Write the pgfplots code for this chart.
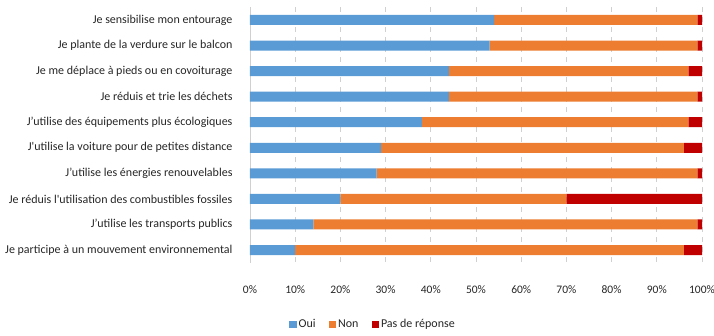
\documentclass[border=0pt]{standalone}
\usepackage{fontspec}
\newfontfamily\carlito{Carlito}
\usepackage{pgfplots}
\usepackage{pgfplotstable}
\pgfplotsset{compat=1.18}
\definecolor{oui}{HTML}{5B9BD5}
\definecolor{non}{HTML}{ED7D31}
\definecolor{pdr}{HTML}{C00000}
\definecolor{txt}{HTML}{262626}
\definecolor{grid}{HTML}{D0D0D0}
\newcommand\lf{\carlito\fontsize{12}{13}\selectfont}
\pgfplotstableread{
row oui non pdr
0 54 45 1
1 53 46 1
2 44 53 3
3 44 55 1
4 38 59 3
5 29 67 4
6 28 71 1
7 20 50 30
8 14 85 1
9 10 86 4
}\datatable
\begin{document}
\carlito
\begin{tikzpicture}
\path[use as bounding box] (-250pt,-72.2pt) rectangle (464pt,262.8pt);
\begin{axis}[
  at={(0,0)}, anchor=south west,
  scale only axis,
  width=452pt, height=255.6pt,
  xbar stacked,
  bar width=10pt,
  xmin=0, xmax=100,
  ymin=-0.5, ymax=9.5,
  y dir=reverse,
  axis lines=left,
  axis line style={-},
  x axis line style={draw=none},
  y axis line style={draw=grid, line width=0.8pt},
  major tick length=0pt,
  xtick={0,10,...,100},
  xticklabel={\pgfmathprintnumber{\tick}\%},
  /pgf/number format/assume math mode=true,
  xticklabel style={font=\carlito\fontsize{11.5}{13}\selectfont, text=txt, yshift=-19pt},
  ytick={0,...,9},
  yticklabels={Je sensibilise mon entourage,
    Je plante de la verdure sur le balcon,
    Je me déplace à pieds ou en covoiturage,
    Je réduis et trie les déchets,
    J’utilise des équipements plus écologiques,
    J'utilise la voiture pour de petites distance,
    J’utilise les énergies renouvelables,
    Je réduis l'utilisation des combustibles fossiles,
    J’utilise les transports publics,
    Je participe à un mouvement environnemental},
  yticklabel style={font=\carlito\fontsize{12}{13}\selectfont, text=txt, xshift=-14pt},
  xmajorgrids,
  major grid style={draw=grid, dash pattern=on 5pt off 5pt, line width=0.8pt},
  legend style={at={(0.272,-61.5pt)}, anchor=center, legend columns=3, draw=none,
    font=\lf, text=txt, nodes={inner sep=2pt},
    /tikz/every even column/.append style={column sep=11pt}},
  legend image code/.code={\fill[#1] (0pt,-3.75pt) rectangle (7.5pt,3.75pt);},
  every axis plot/.append style={draw=none},
]
\addplot[fill=oui] table[x=oui, y=row] {\datatable};
\addplot[fill=non] table[x=non, y=row] {\datatable};
\addplot[fill=pdr] table[x=pdr, y=row] {\datatable};
\legend{Oui, Non, Pas de réponse}
\end{axis}
\end{tikzpicture}
\end{document}
